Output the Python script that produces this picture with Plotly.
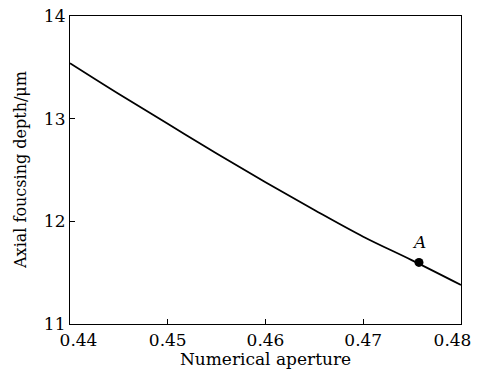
import plotly.graph_objects as go

na = [0.44, 0.445, 0.45, 0.455, 0.46, 0.465, 0.47, 0.475, 0.48]
depth = [13.54, 13.24, 12.95, 12.66, 12.38, 12.11, 11.85, 11.62, 11.38]
point_a_x = [0.4757]
point_a_y = [11.60]
point_label = "A"
x_ticks = [0.44, 0.45, 0.46, 0.47, 0.48]
x_tick_labels = ["\u2002\u20020.44", "0.45", "0.46", "0.47", "0.48\u2002\u2002"]
y_ticks = [11, 12, 13, 14]
y_tick_labels = ["11", "12", "13", "14"]
x_title = "Numerical aperture"
y_title = "Axial foucsing depth/μm"

font_family = "DejaVu Serif"

fig = go.Figure()
fig.add_trace(go.Scatter(x=na, y=depth, mode="lines", line=dict(color="black", width=1.8),
                         line_shape="spline", showlegend=False))
fig.add_trace(go.Scatter(x=point_a_x, y=point_a_y, mode="markers",
                         marker=dict(color="black", size=9), showlegend=False))
fig.add_annotation(x=point_a_x[0], y=point_a_y[0], text="<i>" + point_label + "</i>",
                   showarrow=False, yshift=20, xshift=0,
                   font=dict(family=font_family, size=17, color="black"))
fig.add_annotation(x=-0.128, y=0.5, xref="paper", yref="paper", text=y_title,
                   textangle=-90, showarrow=False, xanchor="center", yanchor="middle",
                   font=dict(family=font_family, size=16, color="black"))

axis_common = dict(showgrid=False, zeroline=False, showline=True, linecolor="black",
                   linewidth=1.2, mirror=True, ticks="inside", ticklen=5, automargin=False,
                   ticklabeloverflow="allow",
                   tickcolor="black", tickfont=dict(family=font_family, size=17, color="black"))
fig.update_xaxes(range=[0.44, 0.48], tickvals=x_ticks, ticktext=x_tick_labels,
                 title=dict(text=x_title, font=dict(family=font_family, size=17, color="black"),
                            standoff=3),
                 **axis_common)
fig.update_yaxes(range=[11, 14], tickvals=y_ticks, ticktext=y_tick_labels, **axis_common)
fig.update_layout(width=479, height=372, margin=dict(l=70, r=18, t=16, b=48),
                  plot_bgcolor="white", paper_bgcolor="white")
fig.write_html("out.html", config={"displayModeBar": False},
               post_script="document.body.style.margin='0';")
